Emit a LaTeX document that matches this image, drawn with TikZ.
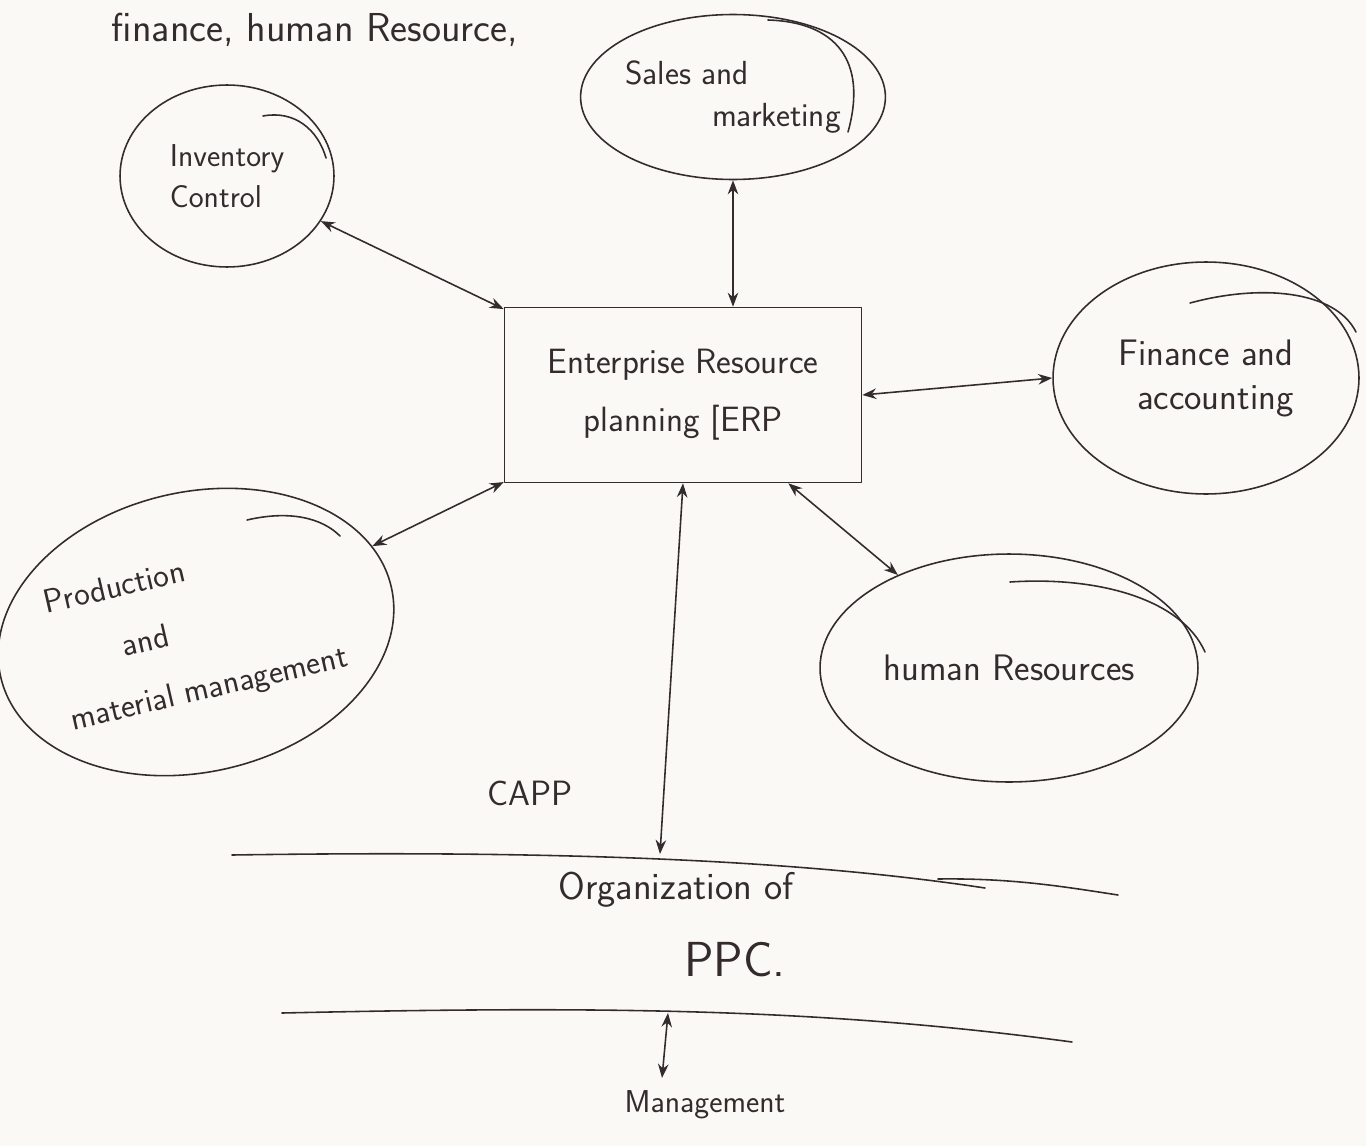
\documentclass[tikz,border=0pt]{standalone}
\usepackage{fontspec}
\usetikzlibrary{arrows.meta,shapes.geometric,calc}
\definecolor{paper}{HTML}{FBF9F6}
\definecolor{ink}{HTML}{342C2C}
\begin{document}
\begin{tikzpicture}[x=0.02cm,y=-0.02cm,
  pen/.style={draw=ink,line width=0.9pt,line cap=round,line join=round},
  bubble/.style={pen,ellipse,inner sep=0pt,text=ink,font=\sffamily\fontsize{19}{24}\selectfont},
  erpbox/.style={pen,rectangle,inner sep=0pt,text=ink,align=center,
     minimum width=7.14cm,minimum height=3.5cm,font=\sffamily\fontsize{20}{33}\selectfont},
  label/.style={text=ink,inner sep=0pt,font=\sffamily\fontsize{20}{26}\selectfont},
  link/.style={pen,{Stealth[length=8pt,width=6pt]}-{Stealth[length=8pt,width=6pt]}}]
% paper
\fill[paper] (0,0) rectangle (1366,1146);
\useasboundingbox (0,0) rectangle (1366,1146);

% heading note
\node[label,font=\sffamily\fontsize{23}{28}\selectfont] (note) at (315,30) {finance, human Resource,};

% central system
\node[erpbox] (erp) at (683,395) {Enterprise Resource\\planning [ERP};

% surrounding functions
\node[bubble,minimum width=5.08cm,minimum height=3.3cm,align=left] (sales) at (733,97)
  {Sales and\\\hspace*{2.6em}marketing};
\node[bubble,minimum width=4.28cm,minimum height=3.64cm,align=left,font=\sffamily\fontsize{18}{23}\selectfont] (inv) at (227,176)
  {Inventory\\Control};
\node[bubble,minimum width=6.12cm,minimum height=4.64cm,align=right,font=\sffamily\fontsize{21}{25}\selectfont] (fin) at (1206,378)
  {Finance and\\accounting};
\node[bubble,minimum width=7.4cm,minimum height=5.6cm,rotate=13,align=left,font=\sffamily\fontsize{19}{34}\selectfont] (prod) at (196,632)
  {Production\\\hspace*{2em}and\\material management};
\node[bubble,minimum width=7.56cm,minimum height=4.56cm,font=\sffamily\fontsize{21}{30}\selectfont] (hr) at (1009,668)
  {human Resources};

% overlapping pen strokes where each bubble was closed
\draw[pen] (768,20) .. controls (835,22) and (868,60) .. (848,132);
\draw[pen] (263,116) .. controls (295,110) and (318,130) .. (326,158);
\draw[pen] (1190,303) .. controls (1260,284) and (1335,290) .. (1356,332);
\draw[pen] (247,520) .. controls (290,510) and (322,518) .. (340,536);
\draw[pen] (1010,582) .. controls (1100,576) and (1182,600) .. (1205,652);

% links to ERP
\draw[link] (inv) -- (erp);
\draw[link] (sales.south) -- (sales.south |- erp.north);
\draw[link] (erp.east) -- (fin.west);
\draw[link] (prod) -- (erp);
\draw[link] (erp) -- (hr);

% organisation of PPC band
\coordinate (top) at (660,854);
\coordinate (bot) at (668,1013);
\coordinate (mgt) at (662,1078);
\draw[pen] (232,855) .. controls (560,850) and (800,860) .. (985,888);
\draw[pen] (938,879) .. controls (1010,878) and (1060,886) .. (1118,895);
\draw[pen] (282,1013) .. controls (600,1006) and (820,1008) .. (1072,1042);

\node[label] (capp) at (530,793) {CAPP};
\draw[link] (erp.south) -- (top);
\node[label,font=\sffamily\fontsize{22}{26}\selectfont] (org) at (676,890) {Organization of};
\node[label,font=\sffamily\fontsize{28}{32}\selectfont] (ppc) at (735,960) {PPC.};
\draw[link] (bot) -- (mgt);
\node[label,font=\sffamily\fontsize{18}{22}\selectfont] (man) at (705,1105) {Management};
\end{tikzpicture}
\end{document}
